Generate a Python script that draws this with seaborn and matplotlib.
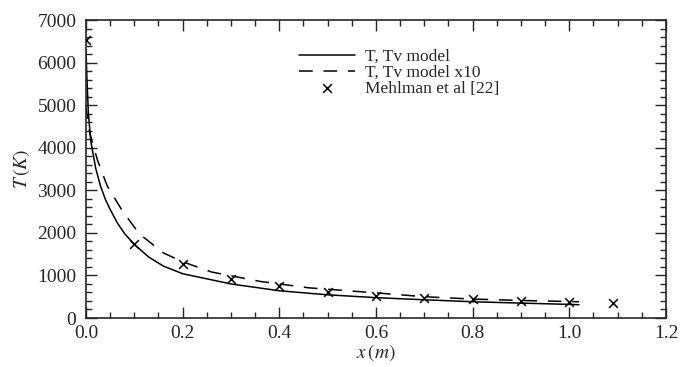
import matplotlib
matplotlib.use("Agg")
import matplotlib.pyplot as plt
import seaborn as sns
from matplotlib.ticker import MultipleLocator

# T, Tv model (solid)
x_model = [0.0, 0.002, 0.005, 0.01, 0.02, 0.03, 0.04, 0.05, 0.065, 0.08, 0.1, 0.13, 0.16, 0.2,
           0.3, 0.4, 0.5, 0.6, 0.7, 0.8, 0.9, 1.0, 1.02]
T_model = [6300, 5600, 4800, 4150, 3520, 3100, 2790, 2550, 2230, 1980, 1730, 1430, 1220, 1040,
           800, 640, 545, 478, 428, 382, 350, 320, 312]

# T, Tv model x10 (dashed)
x_model10 = [0.0, 0.004, 0.01, 0.024, 0.044, 0.074, 0.11, 0.16, 0.2, 0.26, 0.36, 0.46,
             0.6, 0.7, 0.8, 0.9, 1.02]
T_model10 = [5000, 4550, 4250, 3700, 3100, 2540, 1980, 1530, 1320, 1080, 860, 710,
             590, 500, 445, 412, 382]

# Mehlman et al [22] (crosses)
x_exp = [0.0, 0.1, 0.2, 0.3, 0.4, 0.5, 0.6, 0.7, 0.8, 0.9, 1.0, 1.09]
T_exp = [6520, 1740, 1268, 916, 760, 611, 520, 470, 440, 400, 376, 352]

sns.set_style("ticks")
plt.rcParams["font.family"] = ["Liberation Serif", "DejaVu Serif"]
plt.rcParams["mathtext.fontset"] = "stix"

fig = plt.figure(figsize=(6.88, 3.67), dpi=100)
ax = fig.add_axes([0.125, 0.1335, 0.843, 0.812])

sns.lineplot(x=x_model, y=T_model, ax=ax, color="black", linewidth=1.1,
             estimator=None, sort=False, label="T, Tv model")
sns.lineplot(x=x_model10, y=T_model10, ax=ax, color="black", linewidth=1.1,
             estimator=None, sort=False, label="T, Tv model x10")
ax.lines[-1].set_dashes((9, 7))
sns.scatterplot(x=x_exp, y=T_exp, ax=ax, color="black", marker="x", s=40,
                linewidth=1.1, label="Mehlman et al [22]", zorder=5)

ax.set_xlim(0, 1.2)
ax.set_ylim(0, 7000)
ax.xaxis.set_minor_locator(MultipleLocator(0.05))
ax.yaxis.set_major_locator(MultipleLocator(1000))
ax.yaxis.set_minor_locator(MultipleLocator(200))
ax.set_xticks([0.0, 0.2, 0.4, 0.6, 0.8, 1.0, 1.2])
ax.set_xticklabels(["0.0", "0.2", "0.4", "0.6", "0.8", "1.0", "1.2"])
ax.tick_params(which="both", direction="in", top=True, right=True, labelsize=14, width=1.0)
ax.tick_params(which="major", length=8)
ax.tick_params(which="minor", length=4)
ax.tick_params(axis="y", pad=7)
ax.tick_params(axis="x", pad=5)
for s in ax.spines.values():
    s.set_linewidth(1.2)

ax.set_xlabel(r"$x\,(m)$", fontsize=14, labelpad=0)
ax.set_ylabel(r"$T\,(K)$", fontsize=14, labelpad=4)

leg = ax.legend(loc="upper left", bbox_to_anchor=(0.347, 0.945), frameon=False,
                fontsize=12.5, handlelength=3.2, handletextpad=0.6, labelspacing=0.0,
                borderpad=0.2)

fig.savefig("out.png", dpi=100)
